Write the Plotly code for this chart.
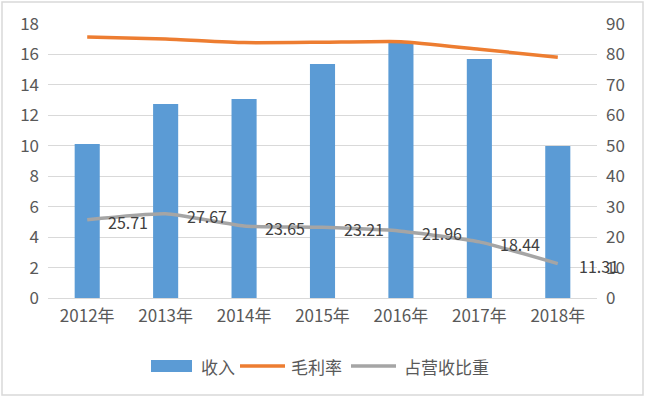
import plotly.graph_objects as go

years = ["2012年", "2013年", "2014年", "2015年", "2016年", "2017年", "2018年"]
revenue = [10.12, 12.75, 13.07, 15.37, 16.75, 15.70, 9.99]
gross_margin = [85.7, 85.1, 83.9, 84.0, 84.2, 81.7, 79.1]
revenue_share = [25.71, 27.67, 23.65, 23.21, 21.96, 18.44, 11.31]
series_names = ["收入", "毛利率", "占营收比重"]

BLUE = "#5B9BD5"
ORANGE = "#ED7D31"
GRAY = "#A5A5A5"
TXT = "#595959"
FONT = "Noto Sans CJK SC"

W, H = 646, 398
L, R, T, B = 48, 49, 24, 100
PW, PH = W - L - R, H - T - B

def px_x(p):
    return (p - L) / PW

def px_y(p):
    return (H - B - p) / PH

fig = go.Figure()
fig.add_trace(go.Bar(x=years, y=revenue, name=series_names[0], marker_color=BLUE,
                     marker_line_width=0, yaxis="y"))
fig.add_trace(go.Scatter(x=years, y=gross_margin, name=series_names[1], mode="lines",
                         line=dict(color=ORANGE, width=3.5, shape="spline", smoothing=0.5),
                         yaxis="y2"))
fig.add_trace(go.Scatter(x=years, y=revenue_share, name=series_names[2], mode="lines",
                         line=dict(color=GRAY, width=3.5, shape="spline", smoothing=0.5),
                         yaxis="y2"))

annotations = []
for yr, v in zip(years, revenue_share):
    annotations.append(dict(x=yr, y=v, xref="x", yref="y2", text=f"{v:.2f}",
                            showarrow=False, xanchor="left", yanchor="middle",
                            xshift=19, yshift=-2,
                            font=dict(family=FONT, size=16, color="#404040")))

# manual legend
leg_y = px_y(366)
shapes = [
    dict(type="rect", xref="paper", yref="paper", x0=px_x(2), x1=px_x(643),
         y0=px_y(395), y1=px_y(2), line=dict(color="#D9D9D9", width=1.5), fillcolor="rgba(0,0,0,0)",
         layer="below"),
    dict(type="rect", xref="paper", yref="paper", x0=px_x(151), x1=px_x(192),
         y0=px_y(372), y1=px_y(360), line=dict(width=0), fillcolor=BLUE),
    dict(type="line", xref="paper", yref="paper", x0=px_x(240), x1=px_x(285),
         y0=leg_y, y1=leg_y, line=dict(color=ORANGE, width=3.5)),
    dict(type="line", xref="paper", yref="paper", x0=px_x(351), x1=px_x(396),
         y0=leg_y, y1=leg_y, line=dict(color=GRAY, width=3.5)),
]
for name, xs in zip(series_names, [199, 289, 402]):
    annotations.append(dict(x=px_x(xs), y=leg_y, xref="paper", yref="paper", text=name,
                            showarrow=False, xanchor="left", yanchor="middle",
                            font=dict(family=FONT, size=17, color=TXT)))

fig.update_layout(
    width=W, height=H,
    margin=dict(l=L, r=R, t=T, b=B, autoexpand=False),
    paper_bgcolor="white", plot_bgcolor="white",
    font=dict(family=FONT, size=17, color=TXT),
    showlegend=False,
    bargap=0.68,
    xaxis=dict(type="category", range=[-0.5, len(years) - 0.5], showgrid=False, showline=False,
               ticks="", automargin=False,
               tickfont=dict(size=17, color=TXT), ticklabelstandoff=6),
    yaxis=dict(range=[0, 18], dtick=2, showgrid=True, gridcolor="#D9D9D9", gridwidth=1,
               zeroline=True, zerolinecolor="#D9D9D9", zerolinewidth=1, automargin=False,
               showline=False, ticks="", tickfont=dict(size=17, color=TXT),
               ticklabelstandoff=8),
    yaxis2=dict(range=[0, 90], dtick=10, overlaying="y", side="right", showgrid=False,
                zeroline=False, showline=False, ticks="", tickfont=dict(size=17, color=TXT),
                ticklabelstandoff=8, automargin=False),
    shapes=shapes,
    annotations=annotations,
)

fig.write_html("out.html", config={"displayModeBar": False},
               post_script="document.body.style.margin='0';document.body.style.overflow='hidden';")
